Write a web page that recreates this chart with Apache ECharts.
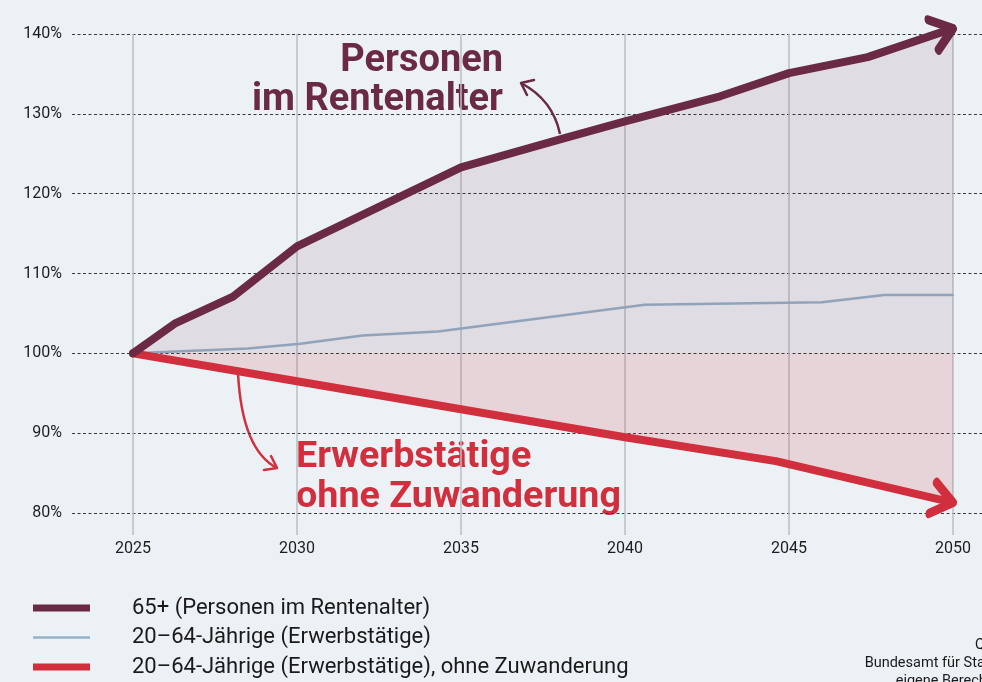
<!DOCTYPE html>
<html><head><meta charset="utf-8">
<script src="https://cdn.jsdelivr.net/npm/echarts@6/dist/echarts.min.js"></script>
<style>html,body{margin:0;padding:0;background:#ecf1f5}#c{width:982px;height:682px}</style>
</head><body><div id="c"></div>
<script>
// ---- data ----
const legendNames = ['65+ (Personen im Rentenalter)', '20\u201364-Jährige (Erwerbstätige)', '20\u201364-Jährige (Erwerbstätige), ohne Zuwanderung'];
const years65 = [2025, 2026.3, 2028.05, 2030, 2035, 2038.1, 2040, 2042.9, 2045, 2047.4, 2050];
const values65 = [100, 103.8, 107.1, 113.4, 123.3, 126.9, 129.05, 132.2, 135.1, 137.1, 140.7];
const yearsWork = [2025, 2028.5, 2030.1, 2032, 2034.3, 2040.6, 2046, 2047.9, 2050];
const valuesWork = [100, 100.6, 101.2, 102.25, 102.75, 106.1, 106.4, 107.3, 107.3];
const yearsNoMig = [2025, 2030, 2035, 2040, 2044.6, 2050];
const valuesNoMig = [100, 96.5, 93.0, 89.5, 86.5, 81.3];
const xTicks = [2025, 2030, 2035, 2040, 2045, 2050];
const yTicks = [80, 90, 100, 110, 120, 130, 140];
const baseline = 100;

// ---- style ----
const COL65 = '#6a2a44', COLW = '#95b2c9', COLN = '#d12f3d';
const FONT = 'Roboto';
const ARROW = 'path://M0,0L21,16L0,32';
const ARW = 21, ARH = 32;

function pairs(xs, ys) { return xs.map((x, i) => [x, ys[i]]); }
function withArrow(xs, ys, color, rot, off) {
  const d = pairs(xs, ys);
  const last = d.length - 1;
  d[last] = {
    value: d[last], symbol: ARROW, symbolSize: [ARW, ARH], symbolRotate: rot, symbolOffset: off,
    itemStyle: { color: 'none', borderColor: color, borderWidth: 8, borderCap: 'round', borderJoin: 'round' }
  };
  return d;
}

const chart = echarts.init(document.getElementById('c'));

function buildSeries(rot65, off65, rotN, offN) {
  return [
    { name: legendNames[1], type: 'line', xAxisIndex: 0, yAxisIndex: 0, data: pairs(yearsWork, valuesWork),
      symbol: 'none', clip: false, lineStyle: { color: COLW, width: 2.5, cap: 'round', join: 'round' },
      itemStyle: { color: COLW }, z: 3, emphasis: { disabled: true } },
    { name: legendNames[2], type: 'line', xAxisIndex: 0, yAxisIndex: 0,
      data: withArrow(yearsNoMig, valuesNoMig, COLN, rotN, offN),
      symbol: 'none', showSymbol: true, clip: false,
      lineStyle: { color: COLN, width: 8, cap: 'round', join: 'round' },
      itemStyle: { color: COLN }, areaStyle: { origin: baseline, color: 'rgba(209,47,61,0.15)', opacity: 1 },
      z: 3, emphasis: { disabled: true } },
    { name: legendNames[0], type: 'line', xAxisIndex: 0, yAxisIndex: 0,
      data: withArrow(years65, values65, COL65, rot65, off65),
      symbol: 'none', showSymbol: true, clip: false,
      lineStyle: { color: COL65, width: 8, cap: 'round', join: 'round' },
      itemStyle: { color: COL65 }, areaStyle: { origin: baseline, color: 'rgba(107,43,69,0.1)', opacity: 1 },
      z: 4, emphasis: { disabled: true } }
  ];
}

function legendItem(name, icon, top) {
  return {
    orient: 'vertical', left: 33, top: top, padding: 0, itemWidth: 57, itemHeight: 14,
    symbolKeepAspect: true, selectedMode: false,
    textStyle: { fontFamily: FONT, fontSize: 22, color: '#1a1a1a', lineHeight: 22, padding: [0, 0, 0, 37] },
    data: [{ name: name, icon: icon }]
  };
}

const option = {
  animation: false,
  backgroundColor: '#ecf1f5',
  grid: [
    { left: 133, right: 29, top: 34, bottom: 147 },
    { left: 72, right: 0, top: 34, bottom: 169 }
  ],
  xAxis: [
    { type: 'value', gridIndex: 0, min: xTicks[0], max: xTicks[xTicks.length - 1], interval: xTicks[1] - xTicks[0],
      axisLine: { show: false }, axisTick: { show: false },
      axisLabel: { fontFamily: FONT, fontSize: 16, color: '#1e1e1e', margin: 6, formatter: v => String(v) },
      splitLine: { show: true, lineStyle: { color: '#babec3', width: 1.5 } } },
    { type: 'value', gridIndex: 1, min: 0, max: 1, show: false }
  ],
  yAxis: [
    { type: 'value', gridIndex: 0, min: 77.25, max: 140, show: false, splitLine: { show: false } },
    { type: 'value', gridIndex: 1, min: yTicks[0], max: yTicks[yTicks.length - 1], interval: yTicks[1] - yTicks[0],
      axisLine: { show: false }, axisTick: { show: false },
      axisLabel: { fontFamily: FONT, fontSize: 16, color: '#1e1e1e', margin: 10, formatter: v => v + '%' },
      splitLine: { show: true, lineStyle: { color: '#3a3a3a', width: 1, type: [3, 2.5] } } }
  ],
  legend: [
    legendItem(legendNames[0], 'path://M0,0H57V7H0Z', 597),
    legendItem(legendNames[1], 'path://M0,0H57V2.5H0Z', 626.5),
    legendItem(legendNames[2], 'path://M0,0H57V7H0Z', 656)
  ],
  graphic: [
    { type: 'text', x: 503, y: 61.5, silent: true, style: { text: 'Personen', font: 'bold 38px Roboto', fill: COL65, align: 'right', verticalAlign: 'middle' } },
    { type: 'text', x: 503, y: 100.5, silent: true, style: { text: 'im Rentenalter', font: 'bold 38px Roboto', fill: COL65, align: 'right', verticalAlign: 'middle' } },
    { type: 'text', x: 296, y: 458, silent: true, style: { text: 'Erwerbstätige', font: 'bold 37.7px Roboto', fill: COLN, align: 'left', verticalAlign: 'middle' } },
    { type: 'text', x: 296, y: 497.5, silent: true, style: { text: 'ohne Zuwanderung', font: 'bold 37.7px Roboto', fill: COLN, align: 'left', verticalAlign: 'middle' } },
    { type: 'bezierCurve', silent: true, shape: { x1: 560, y1: 134, x2: 521, y2: 83, cpx1: 553, cpy1: 100 }, style: { stroke: COL65, lineWidth: 2.5, fill: 'none' } },
    { type: 'polyline', silent: true, shape: { points: [[534, 80], [521, 83], [527, 95]] }, style: { stroke: COL65, lineWidth: 2.5, fill: 'none', lineJoin: 'round', lineCap: 'round' } },
    { type: 'bezierCurve', silent: true, shape: { x1: 238, y1: 373, x2: 277, y2: 468, cpx1: 242, cpy1: 450 }, style: { stroke: COLN, lineWidth: 2.5, fill: 'none' } },
    { type: 'polyline', silent: true, shape: { points: [[271, 456], [277, 468], [264, 470]] }, style: { stroke: COLN, lineWidth: 2.5, fill: 'none', lineJoin: 'round', lineCap: 'round' } },
    { type: 'text', x: 1019, y: 636, silent: true, style: { text: 'Quelle:\nBundesamt für Statistik,\neigene Berechnung', font: '14.5px Roboto', lineHeight: 18, fill: '#1a1a1a', align: 'right', verticalAlign: 'top' } }
  ],
  series: buildSeries(0, [0, 0], 0, [0, 0])
};
chart.setOption(option);

function arrowParams(xs, ys) {
  const n = xs.length;
  const p1 = chart.convertToPixel({ xAxisIndex: 0, yAxisIndex: 0 }, [xs[n - 2], ys[n - 2]]);
  const p2 = chart.convertToPixel({ xAxisIndex: 0, yAxisIndex: 0 }, [xs[n - 1], ys[n - 1]]);
  const dx = p2[0] - p1[0], dy = p2[1] - p1[1];
  const len = Math.hypot(dx, dy);
  const ux = dx / len, uy = dy / len;
  const rot = -Math.atan2(dy, dx) * 180 / Math.PI;
  return { rot, off: [-ux * ARW / 2, -uy * ARW / 2] };
}
const a65 = arrowParams(years65, values65);
const aN = arrowParams(yearsNoMig, valuesNoMig);
chart.setOption({ series: buildSeries(a65.rot, a65.off, aN.rot, aN.off) });
</script>
</body></html>
